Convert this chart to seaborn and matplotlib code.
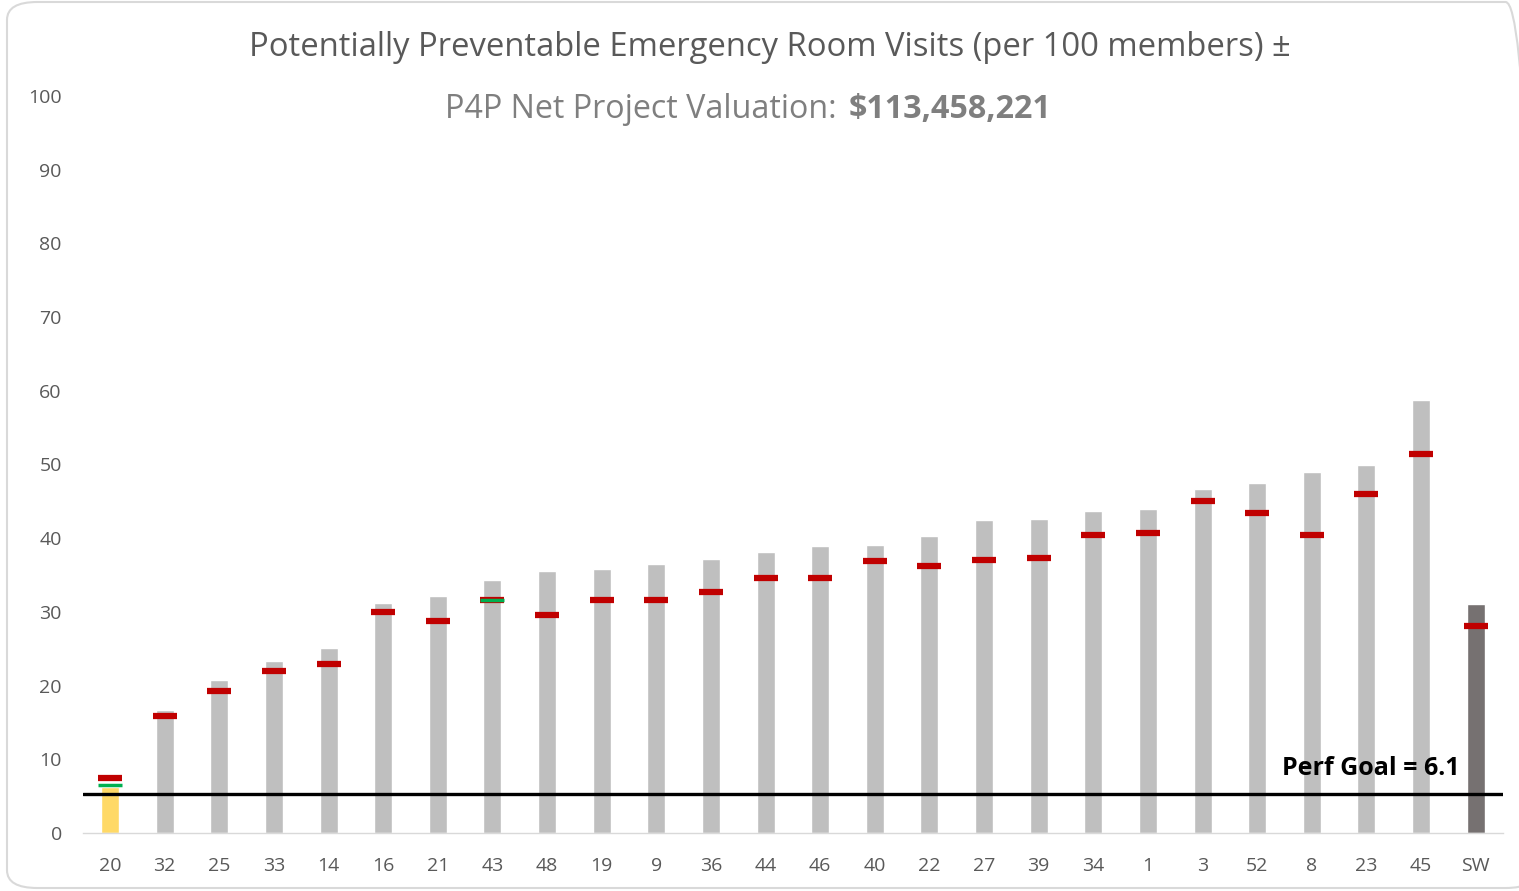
import numpy as np
import pandas as pd
import matplotlib
matplotlib.use("Agg")
import matplotlib.pyplot as plt
import seaborn as sns
from matplotlib.patches import FancyBboxPatch

categories = ["20", "32", "25", "33", "14", "16", "21", "43", "48", "19", "9", "36", "44",
              "46", "40", "22", "27", "39", "34", "1", "3", "52", "8", "23", "45", "SW"]
bar_values = [6.2, 16.7, 20.8, 23.3, 25.1, 31.2, 32.2, 34.3, 35.5, 35.8, 36.5, 37.2, 38.1,
              38.9, 39.1, 40.3, 42.5, 42.6, 43.7, 44.0, 46.7, 47.5, 49.0, 49.9, 58.8, 31.1]
red_marks = [7.5, 15.9, 19.3, 22.0, 22.9, 30.0, 28.8, 31.6, 29.6, 31.6, 31.6, 32.7, 34.6,
             34.6, 36.9, 36.2, 37.0, 37.3, 40.4, 40.7, 45.0, 43.4, 40.4, 46.0, 51.4, 28.1]
green_marks = [6.5, None, None, None, None, None, None, 31.6, None, None, None, None, None,
               None, None, None, None, None, None, None, None, None, None, None, None, None]
goal_line = 5.3
goal_label = "Perf Goal = 6.1"
yticks = [0, 10, 20, 30, 40, 50, 60, 70, 80, 90, 100]

bar_colors = ["#FFD966"] + ["#BFBFBF"] * (len(categories) - 2) + ["#767171"]

sns.set_theme(style="white")
plt.rcParams['font.family'] = ['Open Sans', 'DejaVu Sans']

W, H = 1519, 891
fig = plt.figure(figsize=(W / 100, H / 100), dpi=100)
ax = fig.add_axes([82.7 / W, 1 - 833 / H, (1503 - 82.7) / W, (833 - 96) / H])

df = pd.DataFrame({"cat": categories, "val": bar_values})
sns.barplot(data=df, x="cat", y="val", hue="cat", palette=bar_colors, legend=False,
            width=0.33, ax=ax, saturation=1)

xpos = np.arange(len(categories))
ax.hlines(red_marks, xpos - 0.22, xpos + 0.22, colors="#C00000", linewidth=4.5, zorder=4)
gx = [x for x, g in zip(xpos, green_marks) if g is not None]
gy = [g for g in green_marks if g is not None]
ax.hlines(gy, np.array(gx) - 0.22, np.array(gx) + 0.22, colors="#00B050", linewidth=2.5, zorder=5)

ax.axhline(goal_line, color="black", linewidth=2.4, zorder=6)
ax.text(len(categories) - 1.29, goal_line + 3.4, goal_label, ha="right", va="center",
        fontsize=18, fontweight="bold", color="black", zorder=7)

ax.set_xlim(-0.5, len(categories) - 0.5)
ax.set_ylim(0, 100)
ax.set_yticks(yticks)
ax.set_xlabel("")
ax.set_ylabel("")
for s in ["top", "right", "left"]:
    ax.spines[s].set_visible(False)
ax.spines["bottom"].set_color("#D9D9D9")
ax.spines["bottom"].set_linewidth(1)
ax.tick_params(axis="y", length=0, pad=15, labelsize=14, labelcolor="#595959")
ax.tick_params(axis="x", length=0, pad=17, labelsize=14, labelcolor="#595959")

fig.text(770 / W, 1 - 47 / H, "Potentially Preventable Emergency Room Visits (per 100 members) \u00b1",
         ha="center", va="center", fontsize=23.6, color="#595959")
fig.text(845 / W, 1 - 109 / H, "P4P Net Project Valuation: ", ha="right", va="center",
         fontsize=23.2, color="#7F7F7F")
fig.text(849 / W, 1 - 109 / H, "$113,458,221", ha="left", va="center",
         fontsize=23.2, color="#7F7F7F", fontweight="bold")

frame = FancyBboxPatch((7 / W, 3 / H), (W + 10) / W, (H - 5) / H,
                       boxstyle="round,pad=0,rounding_size=0.02",
                       transform=fig.transFigure, fill=False, edgecolor="#D9D9D9",
                       linewidth=1.5, zorder=0)
fig.patches.append(frame)

fig.savefig("out.png", dpi=100, facecolor="white")
